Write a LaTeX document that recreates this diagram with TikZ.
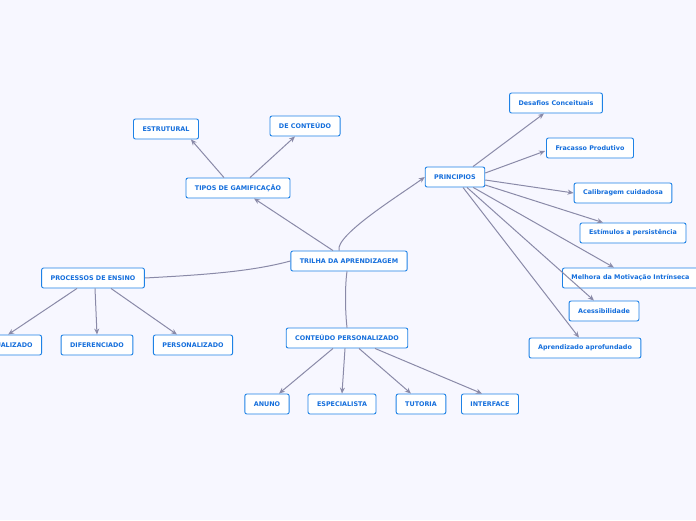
\documentclass[tikz,border=0pt]{standalone}
\usepackage{fontspec}
\setmainfont{DejaVu Sans}
\usetikzlibrary{arrows.meta}
\definecolor{bx}{RGB}{30,130,230}
\definecolor{tx}{RGB}{20,110,220}
\begin{document}
\begin{tikzpicture}[x=1pt,y=-1pt,
 box/.style={draw=bx,line width=0.9pt,rounded corners=2pt,fill=white,text=tx,font=\bfseries\fontsize{6.4}{7}\selectfont,minimum height=20pt,inner xsep=9pt},
 ln/.style={draw=gray!85!blue!80,line width=1pt},
 ar/.style={ln,-{Stealth[length=6pt,width=5pt]}}]
\fill[blue!3!white] (0,0) rectangle (696,520);
\clip (0,0) rectangle (696,520);
\node[box] (t) at (349,261) {TRILHA DA APRENDIZAGEM};
\node[box] (tg) at (238,188) {TIPOS DE GAMIFICAÇÃO};
\node[box] (es) at (166,129) {ESTRUTURAL};
\node[box] (dc) at (305,126) {DE CONTEÚDO};
\node[box] (p) at (455,177) {PRINCIPIOS};
\node[box] (p1) at (556,103) {Desafios Conceituais};
\node[box] (p2) at (590,148) {Fracasso Produtivo};
\node[box] (p3) at (623,193) {Calibragem cuidadosa};
\node[box] (p4) at (633,233) {Estímulos a persistência};
\node[box,anchor=west] (p5) at (562,278) {Melhora da Motivação Intrínseca};
\node[box] (p6) at (604,311) {Acessibilidade};
\node[box] (p7) at (585,348) {Aprendizado aprofundado};
\node[box] (pe) at (93,278) {PROCESSOS DE ENSINO};
\node[box,anchor=east] (e1) at (42,345) {INDIVIDUALIZADO};
\node[box] (e2) at (97,345) {DIFERENCIADO};
\node[box] (e3) at (193,345) {PERSONALIZADO};
\node[box] (c) at (347,338) {CONTEÚDO PERSONALIZADO};
\node[box] (c1) at (267,404) {ANUNO};
\node[box] (c2) at (342,404) {ESPECIALISTA};
\node[box] (c3) at (421,404) {TUTORIA};
\node[box] (c4) at (490,404) {INTERFACE};
\draw[ar] ([xshift=-16pt]t.north) -- ([xshift=16pt]tg.south);
\draw[ar] ([xshift=-10pt]t.north) .. controls (335,235) and (400,195) .. (p.west);
\draw[ln] (t.west) .. controls (250,272) and (200,275) .. (pe.east);
\draw[ln] ([xshift=-2pt]t.south) .. controls (345,285) and (345,310) .. (c.north);
\draw[ar] ([xshift=-14pt]tg.north) -- ([xshift=-8pt]es.south east);
\draw[ar] ([xshift=12pt]tg.north) -- ([xshift=-10pt]dc.south);
\draw[ar] ([xshift=-16pt]pe.south) -- ([xshift=8pt]e1.north);
\draw[ar] ([xshift=2pt]pe.south) -- (e2.north);
\draw[ar] ([xshift=18pt]pe.south) -- ([xshift=-16pt]e3.north);
\draw[ar] ([xshift=-14pt]c.south) -- ([xshift=12pt]c1.north);
\draw[ar] ([xshift=-2pt]c.south) -- (c2.north);
\draw[ar] ([xshift=12pt]c.south) -- ([xshift=-10pt]c3.north);
\draw[ar] ([xshift=28pt]c.south) -- ([xshift=-8pt]c4.north);
\draw[ar] ([xshift=18pt]p.north) -- ([xshift=-12pt]p1.south);
\draw[ar] ([yshift=4pt]p.east) -- ([xshift=-1pt,yshift=-3pt]p2.west);
\draw[ar] ([yshift=-3pt]p.east) -- (p3.west);
\draw[ar] ([yshift=-8pt]p.east) -- ([xshift=-30pt]p4.north);
\draw[ar] ([xshift=-12pt]p.south east) -- ([xshift=52pt]p5.north west);
\draw[ar] ([xshift=12pt]p.south) -- ([xshift=-10pt]p6.north);
\draw[ar] ([xshift=8pt]p.south) -- ([xshift=-6pt]p7.north);
\end{tikzpicture}
\end{document}
